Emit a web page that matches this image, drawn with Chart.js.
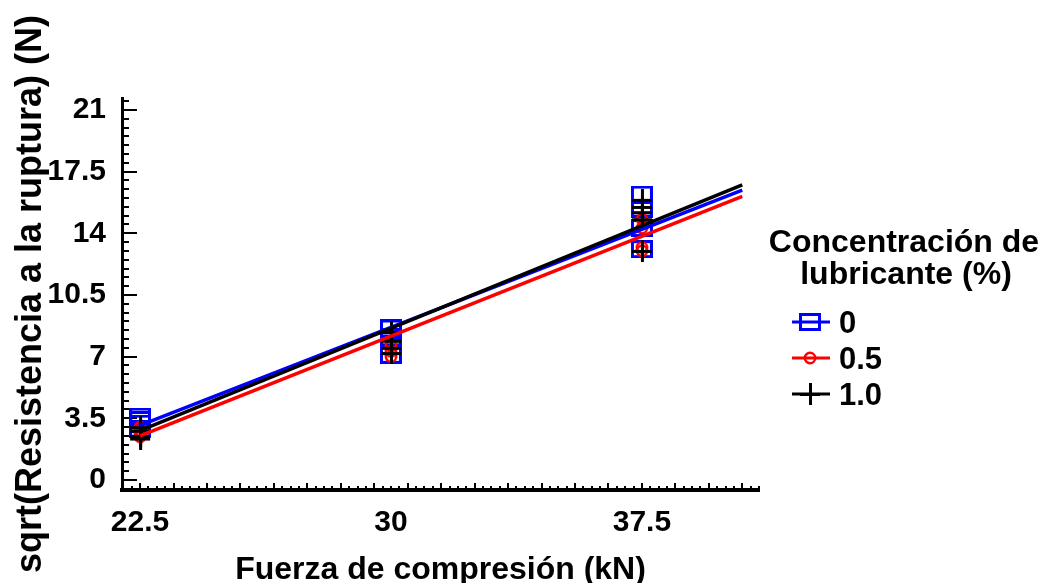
<!DOCTYPE html>
<html>
<head>
<meta charset="utf-8">
<script src="https://cdn.jsdelivr.net/npm/chart.js@4"></script>
<style>
  html, body { margin: 0; padding: 0; background: #fff; }
  #wrap { width: 1042px; height: 583px; position: relative; }
</style>
</head>
<body>
<div id="wrap"><canvas id="chart"></canvas></div>
<script>
// axis ticks and legend text
const xTickValues = [22.5, 30, 37.5];
const yTickValues = [0, 3.5, 7, 10.5, 14, 17.5, 21];
const concLabels = ['0', '0.5', '1.0'];
const legendTitle = ['Concentración de', 'lubricante (%)'];

// compression force of each tablet (kN) and sqrt of breaking strength
const forceBlue  = [22.5, 22.5, 22.5, 22.5, 30, 30, 30, 30, 37.5, 37.5, 37.5, 37.5];
const valueBlue  = [3.6, 3.4, 3.2, 2.9, 8.6, 8.1, 7.6, 7.1, 16.2, 15.4, 14.3, 13.1];
const forceRed   = [22.5, 22.5, 22.5, 22.5, 30, 30, 30, 37.5, 37.5, 37.5, 37.5];
const valueRed   = [3.0, 2.8, 2.6, 2.45, 7.6, 7.3, 7.0, 14.8, 14.3, 13.2, 13.0];
const forceBlack = [22.5, 22.5, 22.5, 22.5, 30, 30, 30, 30, 37.5, 37.5, 37.5, 37.5, 37.5];
const valueBlack = [3.0, 2.8, 2.5, 2.35, 8.4, 7.9, 7.5, 7.2, 15.9, 15.5, 15.2, 14.8, 13.0];

// fitted lines, end points
const fitForce = [22.5, 40.5];
const fitBlue  = [3.1, 16.45];
const fitRed   = [2.5, 16.1];
const fitBlack = [2.8, 16.75];

const BLUE = '#0000ff', RED = '#ff0000', BLACK = '#000000';
const FONT = '"Liberation Sans", Arial, sans-serif';

const toXY = (xs, ys) => xs.map((x, i) => ({ x: x, y: ys[i] }));

function marker(w, h, paint) {
  const c = document.createElement('canvas');
  c.width = w; c.height = h;
  paint(c.getContext('2d'), w, h);
  return c;
}
const squareMark = marker(22, 18, (g, w, h) => {
  g.strokeStyle = BLUE; g.lineWidth = 3;
  g.strokeRect(1.5, 1.5, w - 3, h - 3);
});
const circleMark = marker(14, 14, (g) => {
  g.strokeStyle = RED; g.lineWidth = 2.5;
  g.beginPath(); g.arc(7, 7, 5.2, 0, Math.PI * 2); g.stroke();
});
const plusMark = marker(22, 22, (g) => {
  g.fillStyle = BLACK;
  g.fillRect(1, 10, 20, 3);
  g.fillRect(10, 0, 3, 22);
});

// tick marks drawn on the inside of both axes
const innerTicks = {
  id: 'innerTicks',
  beforeDatasetsDraw(chart) {
    const { ctx, chartArea: a, scales: { x, y } } = chart;
    ctx.save();
    ctx.fillStyle = BLACK;
    for (let i = -2; i <= 44; i++) {
      const py = Math.round(y.getPixelForValue(i * 0.5));
      if (py < a.top || py > a.bottom - 3) continue;
      ctx.fillRect(a.left, py - 1, i % 7 === 0 ? 15 : 7, 2);
    }
    for (let i = -2; i <= 80; i++) {
      const px = Math.round(x.getPixelForValue(22.5 + i * 0.25));
      if (px < a.left + 2 || px > a.right) continue;
      const len = i % 4 === 0 ? 7 : 4;
      ctx.fillRect(px - 1, a.bottom - len, 2, len);
    }
    ctx.restore();
  }
};

// legend at the right: two-line title, then line + marker per series
const sideLegend = {
  id: 'sideLegend',
  afterDraw(chart) {
    const { ctx } = chart;
    ctx.save();
    ctx.fillStyle = BLACK;
    ctx.font = 'bold 32px ' + FONT;
    ctx.textAlign = 'center';
    ctx.textBaseline = 'alphabetic';
    ctx.fillText(legendTitle[0], 904, 252);
    ctx.fillText(legendTitle[1], 906, 284);
    const colors = [BLUE, RED, BLACK];
    const marks = [squareMark, circleMark, plusMark];
    const rows = [322, 358, 394];
    ctx.font = 'bold 31px ' + FONT;
    ctx.textAlign = 'left';
    ctx.textBaseline = 'middle';
    concLabels.forEach((lab, i) => {
      const cy = rows[i];
      ctx.fillStyle = colors[i];
      ctx.fillRect(792, cy - 1.5, 38, 3);
      ctx.drawImage(marks[i], 810 - marks[i].width / 2, cy - marks[i].height / 2);
      ctx.fillStyle = BLACK;
      ctx.fillText(lab, 839, cy + 2);
    });
    ctx.restore();
  }
};

const pointSet = (label, xs, ys, mark, color, order) => ({
  label: label, data: toXY(xs, ys), showLine: false,
  pointStyle: mark, pointRadius: 8, pointHoverRadius: 8,
  borderColor: color, backgroundColor: color, order: order
});
const fitSet = (label, ys, color, order) => ({
  label: label, data: toXY(fitForce, ys), showLine: true,
  pointRadius: 0, borderColor: color, borderWidth: 3.5, fill: false, order: order
});

new Chart(document.getElementById('chart').getContext('2d'), {
  type: 'scatter',
  data: {
    datasets: [
      fitSet('fit 1.0', fitBlack, BLACK, 0),
      fitSet('fit 0', fitBlue, BLUE, 1),
      fitSet('fit 0.5', fitRed, RED, 2),
      pointSet(concLabels[2], forceBlack, valueBlack, plusMark, BLACK, 3),
      pointSet(concLabels[1], forceRed, valueRed, circleMark, RED, 4),
      pointSet(concLabels[0], forceBlue, valueBlue, squareMark, BLUE, 5)
    ]
  },
  options: {
    responsive: true,
    maintainAspectRatio: false,
    animation: false,
    layout: { padding: { top: 98, right: 283, left: 0, bottom: 0 } },
    plugins: { legend: { display: false }, tooltip: { enabled: false } },
    scales: {
      x: {
        type: 'linear', min: 21.96, max: 41.0,
        afterBuildTicks: (s) => { s.ticks = xTickValues.map(v => ({ value: v })); },
        afterFit: (s) => { s.height = 93; },
        grid: { display: false, drawTicks: false },
        border: { display: true, color: BLACK, width: 4 },
        ticks: {
          color: BLACK, padding: 15, maxRotation: 0, autoSkip: false,
          font: { family: FONT, size: 30, weight: 'bold' }
        },
        title: {
          display: true, text: 'Fuerza de compresión (kN)', color: BLACK,
          padding: { top: 0, bottom: -3 },
          font: { family: FONT, size: 32, weight: 'bold', lineHeight: 1 }
        }
      },
      y: {
        type: 'linear', min: -0.57, max: 21.68,
        afterBuildTicks: (s) => { s.ticks = yTickValues.map(v => ({ value: v })); },
        afterFit: (s) => { s.width = 122; },
        grid: { display: false, drawTicks: false },
        border: { display: true, color: BLACK, width: 3 },
        ticks: {
          color: BLACK, padding: 16, autoSkip: false,
          font: { family: FONT, size: 30, weight: 'bold' }
        },
        title: {
          display: true, text: 'sqrt(Resistencia a la ruptura) (N)', color: BLACK,
          padding: { top: 13, bottom: 0 },
          font: { family: FONT, size: 36, weight: 'bold', lineHeight: 1 }
        }
      }
    }
  },
  plugins: [innerTicks, sideLegend]
});
</script>
</body>
</html>
